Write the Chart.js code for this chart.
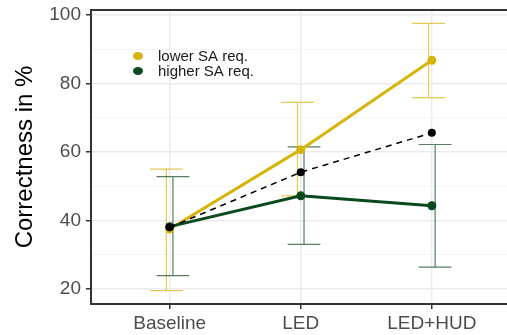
<!DOCTYPE html>
<html>
<head>
<meta charset="utf-8">
<script src="https://cdn.jsdelivr.net/npm/chart.js@4.4.0/dist/chart.umd.min.js"></script>
<style>
  html, body { margin: 0; padding: 0; background: #fff; overflow: hidden; }
  #wrap { width: 515px; height: 335px; }
</style>
</head>
<body>
<div id="wrap"><canvas id="chart" width="515" height="335"></canvas></div>
<script>
// categories and values
const categories = ["Baseline", "LED", "LED+HUD"]
const lowerMean = [37.5, 60.7, 86.8]
const lowerLo = [19.5, 47.2, 75.9]
const lowerHi = [55.0, 74.5, 97.6]
const higherMean = [38.2, 47.2, 44.3]
const higherLo = [23.9, 33.0, 26.4]
const higherHi = [52.8, 61.5, 62.2]
const overallMean = [38.0, 54.1, 65.6]
const yTicks = [20, 30, 40, 50, 60, 70, 80, 90, 100]

const YELLOW = "#d6b40a"
const GREEN = "#0b4a1e"
const FONT = "'Liberation Sans', Arial, sans-serif"

function pts(arr) {
    return arr.map((v, i) => ({ x: i, y: v }))
}

const errorSets = [
    { lo: lowerLo, hi: lowerHi, dodge: -0.025, color: "rgba(214,180,10,0.7)" },
    { lo: higherLo, hi: higherHi, dodge: 0.025, color: "rgba(11,74,30,0.7)" }
]

// error bars, drawn through the chart scales
const errorBars = {
    id: "errorBars",
    beforeDatasetsDraw(chart) {
        const ctx = chart.ctx
        const xs = chart.scales.x, ys = chart.scales.y
        ctx.save()
        ctx.lineWidth = 1.2
        errorSets.forEach(s => {
            ctx.strokeStyle = s.color
            s.lo.forEach((lo, i) => {
                const px = xs.getPixelForValue(i + s.dodge)
                const x0 = xs.getPixelForValue(i + s.dodge - 0.125)
                const x1 = xs.getPixelForValue(i + s.dodge + 0.125)
                const top = ys.getPixelForValue(s.hi[i])
                const bot = ys.getPixelForValue(lo)
                ctx.beginPath()
                ctx.moveTo(px, top); ctx.lineTo(px, bot)
                ctx.moveTo(x0, top); ctx.lineTo(x1, top)
                ctx.moveTo(x0, bot); ctx.lineTo(x1, bot)
                ctx.stroke()
            })
        })
        ctx.restore()
    }
}

// panel top border + legend inside the panel
const extras = {
    id: "extras",
    afterDraw(chart) {
        const ctx = chart.ctx
        const a = chart.chartArea
        ctx.save()
        ctx.strokeStyle = "#333"
        ctx.lineWidth = 2
        ctx.beginPath()
        ctx.moveTo(a.left, a.top); ctx.lineTo(a.right, a.top)
        ctx.stroke()

        const items = [["lower SA req.", YELLOW], ["higher SA req.", GREEN]]
        ctx.font = "15px " + FONT
        ctx.textBaseline = "middle"
        items.forEach((it, k) => {
            const y = a.top + 46 + k * 15
            ctx.fillStyle = it[1]
            ctx.beginPath()
            ctx.ellipse(a.left + 47, y, 5, 4, 0, 0, Math.PI * 2)
            ctx.fill()
            ctx.fillStyle = "#1a1a1a"
            ctx.fillText(it[0], a.left + 67, y + 1)
        })
        ctx.restore()
    }
}

new Chart("chart", {
    type: "line",
    data: {
        datasets: [
            {
                label: "overall",
                data: pts(overallMean),
                borderColor: "#000",
                backgroundColor: "#000",
                borderWidth: 1.5,
                borderDash: [6, 5],
                pointRadius: 4,
                pointBorderWidth: 0
            },
            {
                label: "higher SA req.",
                data: pts(higherMean),
                borderColor: GREEN,
                backgroundColor: GREEN,
                borderWidth: 3,
                pointRadius: 4.5,
                pointBorderWidth: 0
            },
            {
                label: "lower SA req.",
                data: pts(lowerMean),
                borderColor: YELLOW,
                backgroundColor: YELLOW,
                borderWidth: 3,
                pointRadius: 4.5,
                pointBorderWidth: 0
            }
        ]
    },
    options: {
        responsive: false,
        animation: false,
        layout: { padding: { top: 10, left: 0, right: 0, bottom: 0 } },
        plugins: { legend: { display: false }, tooltip: { enabled: false } },
        scales: {
            x: {
                type: "linear",
                min: -0.6,
                max: 2.6,
                afterBuildTicks: s => { s.ticks = categories.map((c, i) => ({ value: i })) },
                afterFit: s => { s.height = 31; s.paddingLeft = 0; s.paddingRight = 0 },
                ticks: {
                    callback: v => categories[v],
                    color: "#4d4d4d",
                    font: { family: FONT, size: 19 },
                    padding: 3,
                    maxRotation: 0,
                    autoSkip: false
                },
                grid: { color: "#ebebeb", lineWidth: 1.5, tickColor: "#333", tickLength: 5 },
                border: { color: "#333", width: 2 }
            },
            y: {
                min: 15.6,
                max: 101.5,
                afterBuildTicks: s => { s.ticks = yTicks.map(v => ({ value: v })) },
                afterFit: s => { s.width = 91; s.paddingTop = 0; s.paddingBottom = 0 },
                ticks: {
                    callback: v => (v % 20 === 0 ? v : ""),
                    color: "#4d4d4d",
                    font: { family: FONT, size: 19 },
                    padding: 5,
                    autoSkip: false
                },
                grid: {
                    color: c => (c.tick && c.tick.value % 20 === 0 ? "#ebebeb" : "#f3f3f3"),
                    lineWidth: c => (c.tick && c.tick.value % 20 === 0 ? 1.5 : 0.9),
                    tickColor: c => (c.tick && c.tick.value % 20 === 0 ? "#333" : "rgba(0,0,0,0)"),
                    tickLength: 5
                },
                border: { color: "#333", width: 2 },
                title: {
                    display: true,
                    text: "Correctness in %",
                    color: "#000",
                    font: { family: FONT, size: 24 },
                    padding: { top: 11, bottom: 0 }
                }
            }
        }
    },
    plugins: [errorBars, extras]
})
</script>
</body>
</html>
